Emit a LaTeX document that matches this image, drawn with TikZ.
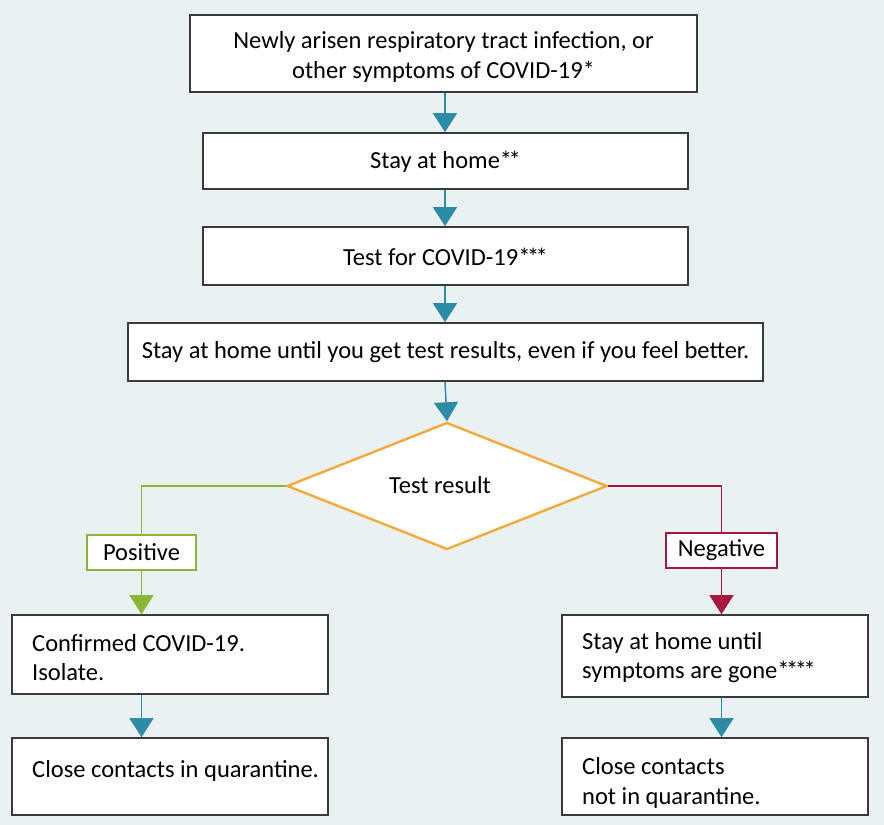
\documentclass[tikz,border=0pt]{standalone}
\usepackage{fontspec}
\setmainfont{Carlito}
\usetikzlibrary{arrows.meta,shapes.geometric}
\definecolor{bgc}{HTML}{E9F1F3}
\definecolor{tealc}{HTML}{2C8BA6}
\definecolor{greenc}{HTML}{8AB634}
\definecolor{redc}{HTML}{A8173F}
\definecolor{orangec}{HTML}{F5A93A}
\definecolor{edgec}{HTML}{3A3A3A}
\newcommand{\stk}{*\kern-3.5pt}
\tikzset{
  txt/.style={font=\fontsize{24.5}{29.5}\selectfont},
  box/.style={draw=edgec, line width=1.6pt, fill=white, inner sep=0pt, align=center, txt},
  ltxt/.style={txt, align=left, anchor=west, inner sep=0pt},
  ctxt/.style={txt, align=center, inner sep=0pt},
  tag/.style={fill=white, line width=1.4pt, inner sep=0pt, txt},
  flow/.style={line width=1.5pt, -{Triangle[width=24pt,length=19pt]}},
  tflow/.style={flow, draw=tealc, fill=tealc},
}
\begin{document}
\begin{tikzpicture}[x=1pt,y=-1pt]
\fill[bgc] (0,0) rectangle (884,825);
\useasboundingbox (0,0) rectangle (884,825);

\node[box, minimum width=507pt, minimum height=77pt] (b1) at (443.5,53.5) {};
\node[ctxt] (t1) at (443.5,57) {Newly arisen respiratory tract infection, or\\other symptoms of COVID-19*};
\node[box, minimum width=485pt, minimum height=56pt] (b2) at (445.5,161) {};
\node[ctxt] (t2) at (445.5,162) {Stay at home\stk*};
\node[box, minimum width=485pt, minimum height=58pt] (b3) at (445.5,256) {};
\node[ctxt] (t3) at (445.5,257) {Test for COVID-19\stk\stk*};
\node[box, minimum width=635pt, minimum height=58pt] (b4) at (445.5,352)
  {Stay at home until you get test results, even if you feel better.};
\node[diamond, draw=orangec, line width=2.4pt, fill=white, inner sep=0pt,
  minimum width=320pt, minimum height=127pt] (d) at (447,486) {};
\node[txt] (dt) at (440,485) {Test result};

\node[tag, draw=greenc, minimum width=109pt, minimum height=35pt] (pos) at (141.5,552.5) {Positive};
\node[tag, draw=redc, minimum width=111pt, minimum height=35pt] (neg) at (721.5,550.5) {Negative};

\node[box, minimum width=316pt, minimum height=79pt] (b8) at (170,654.5) {};
\node[ltxt] (t8) at (32,657.5) {Confirmed COVID-19.\\Isolate.};
\node[box, minimum width=306pt, minimum height=82pt] (b9) at (715,656) {};
\node[ltxt] (t9) at (582,657.5) {Stay at home until\\symptoms are gone\stk\stk\stk*};
\node[box, minimum width=316pt, minimum height=77pt] (b10) at (170,776.5) {};
\node[ltxt] (t10) at (32,771) {Close contacts in quarantine.};
\node[box, minimum width=306pt, minimum height=77pt] (b11) at (715,776.5) {};
\node[ltxt] (t11) at (582,783) {Close contacts\\not in quarantine.};

\coordinate (cx) at (445,0);
\draw[tflow] (cx |- b1.south) -- (cx |- b2.north);
\draw[tflow] (cx |- b2.south) -- (cx |- b3.north);
\draw[tflow] (cx |- b3.south) -- (cx |- b4.north);
\draw[tflow] (cx |- b4.south) -- (d.north);

\draw[greenc, line width=1.6pt] (d.west) -| (pos.north);
\draw[flow, draw=greenc, fill=greenc] (pos.south) -- (pos.south |- b8.north);
\draw[redc, line width=1.6pt] (d.east) -| (neg.north);
\draw[flow, draw=redc, fill=redc] (neg.south) -- (neg.south |- b9.north);

\draw[tflow] (pos.south |- b8.south) -- (pos.south |- b10.north);
\draw[tflow] (neg.south |- b9.south) -- (neg.south |- b11.north);
\end{tikzpicture}
\end{document}
